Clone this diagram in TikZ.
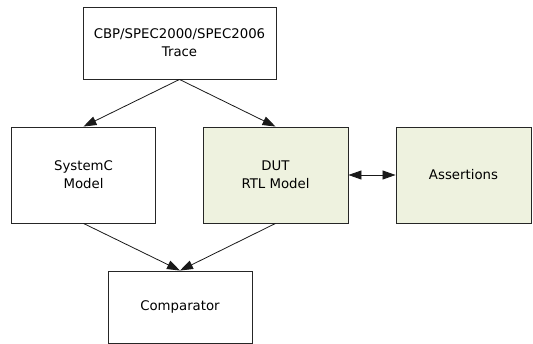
\documentclass[tikz,border=0pt]{standalone}
\usepackage{fontspec}
\setmainfont{DejaVu Sans}
\usetikzlibrary{arrows.meta}
\definecolor{rtlfill}{HTML}{EEF2DF}
\begin{document}
\begin{tikzpicture}[x=1pt,y=-1pt,
  block/.style={draw=black!85, line width=0.9pt, inner sep=0pt, align=center,
    font=\fontsize{13.3}{18}\selectfont},
  flow/.style={draw=black!90, line width=0.8pt,
    -{Triangle[length=13pt,width=9pt]}},
  both/.style={draw=black!90, line width=0.8pt,
    {Triangle[length=13pt,width=9pt]}-{Triangle[length=13pt,width=9pt]}}]
  \useasboundingbox (0,0) rectangle (533,344);
  \node[block, minimum width=193pt, minimum height=72pt] (trace) at (179.5,43)
    {CBP/SPEC2000/SPEC2006\\Trace};
  \node[block, minimum width=144pt, minimum height=96pt] (sysc) at (83.5,175)
    {SystemC\\Model};
  \node[block, fill=rtlfill, minimum width=145pt, minimum height=96pt] (dut) at (275.5,175)
    {DUT\\RTL Model};
  \node[block, fill=rtlfill, minimum width=135pt, minimum height=96pt] (asrt) at (463.5,175)
    {Assertions};
  \node[block, minimum width=144pt, minimum height=72pt] (cmp) at (180,307)
    {Comparator};
  \draw[flow] (trace.south) -- (sysc.north);
  \draw[flow] (trace.south) -- (dut.north);
  \draw[flow] (sysc.south) -- (cmp.north);
  \draw[flow] (dut.south) -- (cmp.north);
  \draw[both] (dut.east) -- (asrt.west);
\end{tikzpicture}
\end{document}
